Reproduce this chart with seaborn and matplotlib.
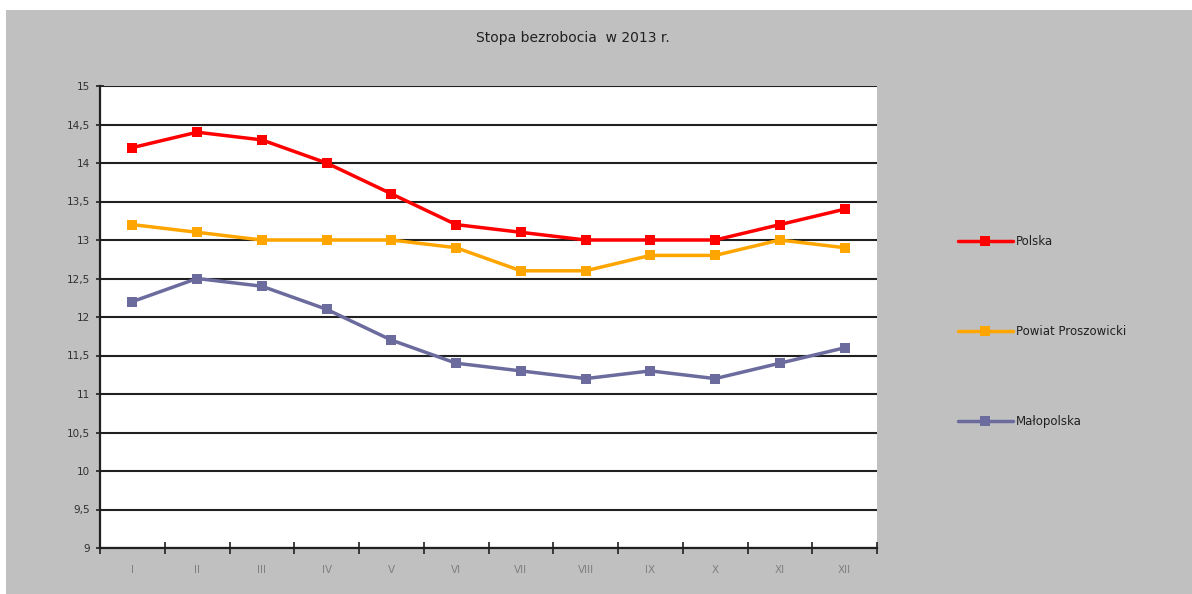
# -*- coding: utf-8 -*-
import pandas as pd
import matplotlib.pyplot as plt
import matplotlib.ticker as mticker
import seaborn as sns
from matplotlib.patches import Rectangle

# Dane
miesiace = ["I", "II", "III", "IV", "V", "VI", "VII", "VIII", "IX", "X", "XI", "XII"]
polska = [14.2, 14.4, 14.3, 14.0, 13.6, 13.2, 13.1, 13.0, 13.0, 13.0, 13.2, 13.4]
powiat = [13.2, 13.1, 13.0, 13.0, 13.0, 12.9, 12.6, 12.6, 12.8, 12.8, 13.0, 12.9]
malopolska = [12.2, 12.5, 12.4, 12.1, 11.7, 11.4, 11.3, 11.2, 11.3, 11.2, 11.4, 11.6]

serie = ["Polska", "Powiat Proszowicki", "Małopolska"]
kolory = ["#ff0000", "#ffa500", "#6b6b9e"]

df = pd.DataFrame({"Polska": polska, "Powiat Proszowicki": powiat, "Małopolska": malopolska})
df["nr"] = range(len(miesiace))
df_long = df.melt(id_vars="nr", var_name="Seria", value_name="Stopa")

sns.set_theme(style="white")
plt.rcParams["font.family"] = ["DejaVu Sans"]

fig = plt.figure(figsize=(11.92, 5.94), dpi=100)
fig.patch.set_facecolor("white")
# szare tło wykresu
fig.patches.append(Rectangle((6 / 1192, 0), 1, 1 - 10 / 594, transform=fig.transFigure,
                             facecolor="#c0c0c0", edgecolor="none", zorder=-10))

ax = fig.add_axes([100 / 1192, 1 - 548 / 594, 777 / 1192, 462 / 594])
ax.set_facecolor("white")

sns.lineplot(data=df_long, x="nr", y="Stopa", hue="Seria", hue_order=serie,
             palette=kolory, marker="s", markersize=6.5, markeredgewidth=0,
             linewidth=2.5, ax=ax, zorder=5)

ax.set_xlim(-0.5, len(miesiace) - 0.5)
ax.set_ylim(9, 15)
ax.yaxis.set_major_locator(mticker.MultipleLocator(0.5))
ax.yaxis.set_major_formatter(mticker.FuncFormatter(
    lambda v, p: f"{v:g}".replace(".", ",")))
ax.grid(axis="y", color="#202020", linewidth=1.5)
ax.set_axisbelow(True)

# osie
ax.xaxis.set_major_locator(mticker.FixedLocator([i - 0.5 for i in range(len(miesiace) + 1)]))
ax.xaxis.set_major_formatter(mticker.NullFormatter())
ax.xaxis.set_minor_locator(mticker.FixedLocator(range(len(miesiace))))
ax.xaxis.set_minor_formatter(mticker.FixedFormatter(miesiace))
ax.tick_params(axis="x", which="major", direction="inout", length=8, width=1.2, color="#202020", bottom=True)
ax.tick_params(axis="x", which="minor", length=0, pad=12, labelsize=7.5, labelcolor="#808080")
ax.tick_params(axis="y", direction="inout", length=6, width=1.2, color="#202020", left=True,
               labelsize=7.5, labelcolor="#303030", pad=4)

for s in ["top", "right"]:
    ax.spines[s].set_visible(False)
for s in ["left", "bottom"]:
    ax.spines[s].set_color("#202020")
    ax.spines[s].set_linewidth(1.6)

ax.set_xlabel("")
ax.set_ylabel("")

fig.text(573 / 1192, 1 - 38 / 594, "Stopa bezrobocia  w 2013 r.", ha="center", va="center",
         fontsize=10, color="#202020")

handles, labels = ax.get_legend_handles_labels()
leg = ax.legend(handles, labels, loc="upper left", bbox_to_anchor=(953 / 1192, 1 - 230 / 594),
                bbox_transform=fig.transFigure, frameon=False, fontsize=8.5,
                labelspacing=6.52, handlelength=4.7, handletextpad=0.2, borderaxespad=0)
for t in leg.get_texts():
    t.set_color("#202020")

plt.savefig("out.png", dpi=100, facecolor=fig.get_facecolor())
plt.close()
